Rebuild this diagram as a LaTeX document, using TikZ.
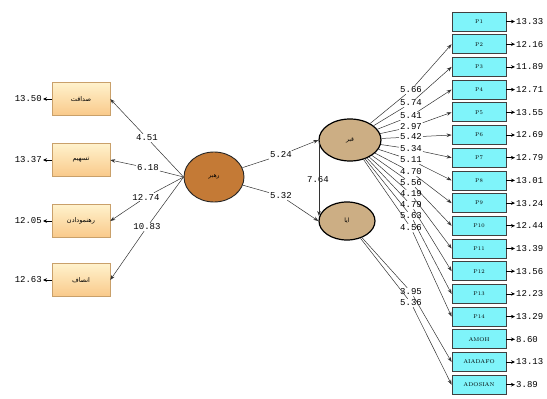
\documentclass[tikz,border=0pt]{standalone}
\usepackage{fontspec}
\setmonofont{Liberation Mono}
\newfontfamily\arabicfont[Script=Arabic]{DejaVu Sans}
\TeXXeTstate=1
\usetikzlibrary{arrows.meta,shapes.geometric}
\definecolor{lboxtop}{HTML}{FFF2CC}
\definecolor{lboxbot}{HTML}{F9C98A}
\definecolor{lboxdraw}{HTML}{C9A06A}
\definecolor{rboxfill}{HTML}{7FF4FA}
\definecolor{bigell}{HTML}{C47A36}
\definecolor{smallell}{HTML}{CCAE84}
\begin{document}
\begin{tikzpicture}[x=1pt,y=-1pt,
  lbox/.style={draw=lboxdraw,line width=0.5pt,top color=lboxtop,bottom color=lboxbot,
    minimum width=58pt,minimum height=33pt,inner sep=0pt,font=\arabicfont\fontsize{6.5}{7}\selectfont},
  rbox/.style={draw=black!75,line width=0.8pt,fill=rboxfill,minimum width=54pt,minimum height=19pt,
    inner sep=0pt,font=\fontsize{5.5}{6}\selectfont},
  bigellipse/.style={ellipse,draw=black!85,line width=0.9pt,fill=bigell,minimum width=60pt,minimum height=50pt,
    inner sep=0pt,font=\arabicfont\fontsize{6}{7}\selectfont},
  smellipse/.style={ellipse,draw=black,line width=1.2pt,fill=smallell,inner sep=0pt,
    font=\arabicfont\fontsize{6}{7}\selectfont},
  num/.style={font=\ttfamily\fontsize{9}{9}\selectfont,inner sep=1pt},
  conn/.style={draw=black!80,line width=0.5pt},
  arr/.style={conn,-{Stealth[length=5pt,width=3.6pt]}},
  errarr/.style={draw=black,line width=0.8pt,-{Stealth[length=4pt,width=3.6pt]}}
]
\useasboundingbox (0,0) rectangle (547,399);

% left indicator boxes
\node[lbox] (b1) at (81,99)  {\beginR صداقت\endR};
\node[lbox] (b2) at (81,160) {\beginR تسهیم\endR};
\node[lbox] (b3) at (81,221) {\beginR رهنمودادن\endR};
\node[lbox] (b4) at (81,280) {\beginR انصاف\endR};

\node[num,anchor=east] (eb1) at (43,99)  {13.50};
\node[num,anchor=east] (eb2) at (43,160) {13.37};
\node[num,anchor=east] (eb3) at (43,221) {12.05};
\node[num,anchor=east] (eb4) at (43,280) {12.63};
\foreach \i in {1,...,4}{\draw[errarr] (b\i.west) -- (eb\i.east);}

% latent variables
\node[bigellipse] (L) at (214,177) {\beginR رهبر\endR};
\node[smellipse,minimum width=62pt,minimum height=42pt] (E1) at (350,140) {\beginR قبر\endR};
\node[smellipse,minimum width=56pt,minimum height=38pt] (E2) at (347,221) {\beginR ایا\endR};

% paths from L to left boxes
\node[num] (t1) at (147,138) {4.51};
\node[num] (t2) at (148,168) {6.18};
\node[num] (t3) at (146,197) {12.74};
\node[num] (t4) at (147,227) {10.83};
\foreach \i in {1,...,4}{
  \draw[conn] (L.west) -- (t\i);
  \draw[arr] (t\i) -- (b\i.east);
}

% structural paths
\node[num] (s1) at (281,155) {5.24};
\node[num] (s2) at (281,196) {5.32};
\node[num] (s3) at (318,180) {7.64};
\draw[conn] (L) -- (s1);
\draw[arr] (s1) -- (E1.west);
\draw[conn] (L) -- (s2);
\draw[arr] (s2) -- (E2.west);
\coordinate (v1) at (319,142);
\coordinate (v2) at (319,216);
\draw[arr] (v1) -- (v2);

% right indicator boxes
\foreach \i/\lab/\err in {1/P1/13.33,2/P2/12.16,3/P3/11.89,4/P4/12.71,5/P5/13.55,6/P6/12.69,
  7/P7/12.79,8/P8/13.01,9/P9/13.24,10/P10/12.44,11/P11/13.39,12/P12/13.56,13/P13/12.23,
  14/P14/13.29,15/AMOH/8.60,16/AIADAFO/13.13,17/ADOSIAN/3.89}{
  \node[rbox] (p\i) at (479,{21.5+22.7*(\i-1)}) {\lab};
  \node[num,anchor=west] (ep\i) at (515,{21.5+22.7*(\i-1)}) {\err};
  \draw[errarr] (p\i.east) -- (ep\i.west);
}

% loadings from E1
\foreach \i/\y/\v in {2/90/5.66,3/103/5.74,4/116/5.41,5/127/2.97,6/137/5.42,7/149/5.34,
  8/160/5.11,9/172/4.70,10/183/5.56,11/194/4.19,12/205/4.79,13/216/5.63,14/228/4.56}{
  \node[num] (f\i) at (411,\y) {\v};
  \draw[conn] (E1) -- (f\i);
  \draw[arr] (f\i) -- (p\i.west);
}

% loadings from E2
\node[num] (g16) at (411,292) {3.95};
\node[num] (g17) at (411,303) {5.36};
\draw[conn] (E2) -- (g16);
\draw[arr] (g16) -- (p16.west);
\draw[conn] (E2) -- (g17);
\draw[arr] (g17) -- (p17.west);
\end{tikzpicture}
\end{document}
